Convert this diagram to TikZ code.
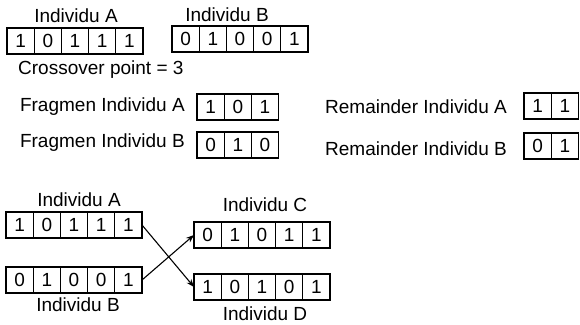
\documentclass[tikz,border=0pt]{standalone}
\usepackage{fontspec}
\setmainfont{Liberation Sans}
\usepackage{tikz}
\usetikzlibrary{arrows.meta}

\tikzset{
  cell/.style={draw, line width=1.1pt, minimum width=27.2pt, minimum height=26pt,
    inner sep=0pt, outer sep=0pt, font=\fontsize{19}{22}\selectfont},
  lbl/.style={inner sep=0pt, font=\fontsize{19}{22}\selectfont}
}

\begin{document}
\begin{tikzpicture}[x=1pt, y=-1pt]
\useasboundingbox (0,0) rectangle (580,324);

\node[lbl] (labA) at (76, 16) {Individu A};
\node[lbl] (labB) at (227, 15) {Individu B};

\node[cell] (ia1) at (20.6, 41) {1};
\node[cell] (ia2) at (47.8, 41) {0};
\node[cell] (ia3) at (75.0, 41) {1};
\node[cell] (ia4) at (102.2, 41) {1};
\node[cell] (ia5) at (129.4, 41) {1};

\node[cell] (ib1) at (185.6, 39) {0};
\node[cell] (ib2) at (212.8, 39) {1};
\node[cell] (ib3) at (240.0, 39) {0};
\node[cell] (ib4) at (267.2, 39) {0};
\node[cell] (ib5) at (294.4, 39) {1};

\node[lbl, anchor=west] (crosspt) at (18, 70) {Crossover point = 3};

\node[lbl, anchor=east] (labFA) at (185, 107) {Fragmen Individu A};
\node[cell] (fa1) at (210.6, 107) {1};
\node[cell] (fa2) at (237.8, 107) {0};
\node[cell] (fa3) at (265.0, 107) {1};

\node[lbl, anchor=east] (labFB) at (185, 143) {Fragmen Individu B};
\node[cell] (fb1) at (210.6, 145) {0};
\node[cell] (fb2) at (237.8, 145) {1};
\node[cell] (fb3) at (265.0, 145) {0};

\node[lbl, anchor=west] (labRA) at (325, 107) {Remainder Individu A};
\node[cell] (ra1) at (537.6, 106) {1};
\node[cell] (ra2) at (564.8, 106) {1};

\node[lbl, anchor=west] (labRB) at (325, 149) {Remainder Individu B};
\node[cell] (rb1) at (537.6, 146) {0};
\node[cell] (rb2) at (564.8, 146) {1};

% crossover result
\node[lbl] (labPA) at (79, 200) {Individu A};
\node[cell] (pa1) at (19.6, 225) {1};
\node[cell] (pa2) at (46.8, 225) {0};
\node[cell] (pa3) at (74.0, 225) {1};
\node[cell] (pa4) at (101.2, 225) {1};
\node[cell] (pa5) at (128.4, 225) {1};

\node[cell] (pb1) at (19.6, 280) {0};
\node[cell] (pb2) at (46.8, 280) {1};
\node[cell] (pb3) at (74.0, 280) {0};
\node[cell] (pb4) at (101.2, 280) {0};
\node[cell] (pb5) at (128.4, 280) {1};
\node[lbl] (labPB) at (78, 305) {Individu B};

\node[lbl] (labC) at (265, 205) {Individu C};
\node[cell] (oc1) at (207.6, 235) {0};
\node[cell] (oc2) at (234.8, 235) {1};
\node[cell] (oc3) at (262.0, 235) {0};
\node[cell] (oc4) at (289.2, 235) {1};
\node[cell] (oc5) at (316.4, 235) {1};

\node[cell] (od1) at (207.6, 287) {1};
\node[cell] (od2) at (234.8, 287) {0};
\node[cell] (od3) at (262.0, 287) {1};
\node[cell] (od4) at (289.2, 287) {0};
\node[cell] (od5) at (316.4, 287) {1};
\node[lbl] (labD) at (265, 314) {Individu D};

\draw[line width=1.1pt, -{Stealth[length=8pt, width=6pt]}] (pa5.east) -- (od1.west);
\draw[line width=1.1pt, -{Stealth[length=8pt, width=6pt]}] (pb5.east) -- (oc1.west);
\end{tikzpicture}
\end{document}
